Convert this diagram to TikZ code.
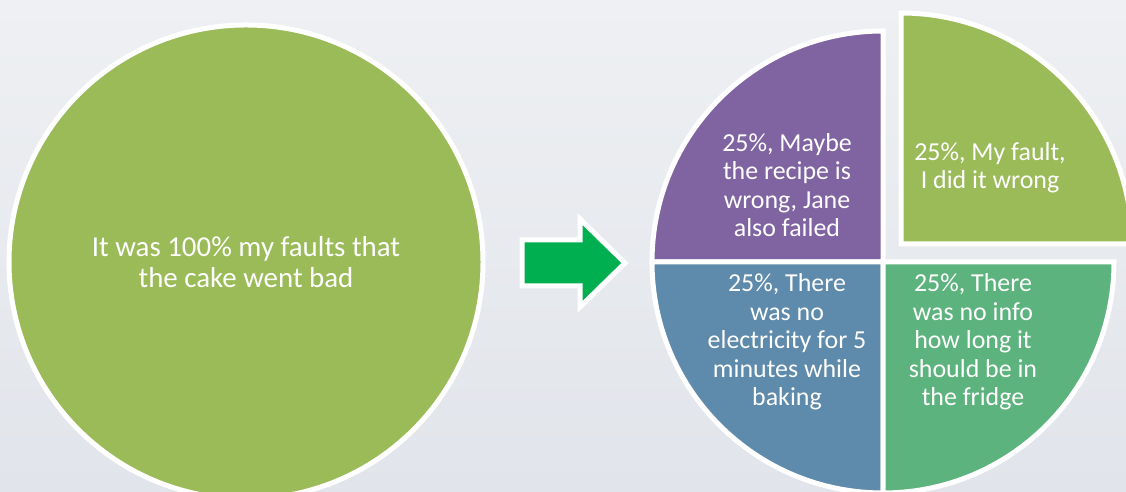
\documentclass[tikz,border=0pt]{standalone}
\usepackage{fontspec}
\setmainfont{Carlito}
\definecolor{bgtop}{HTML}{EEF0F3}
\definecolor{bgbot}{HTML}{E1E4EA}
\definecolor{leaf}{HTML}{9BBB59}
\definecolor{plum}{HTML}{8064A2}
\definecolor{steel}{HTML}{5E8AAB}
\definecolor{mint}{HTML}{5DB37E}
\definecolor{go}{HTML}{00B050}

\begin{document}
\begin{tikzpicture}
   [x=1bp,y=1bp,
    wedge/.style={draw=white, line width=5bp, line join=miter},
    txt/.style={text=white, align=center, inner sep=0pt, font=\fontsize{26}{28.5}\selectfont}]

  \useasboundingbox (0,0) rectangle (1126,492);
  \clip (0,0) rectangle (1126,492);
  \shade[top color=bgtop, bottom color=bgbot] (0,0) rectangle (1126,492);

  \coordinate (c)  at (883,230);
  \coordinate (cx) at (901,248);

  % the whole cake
  \node[circle, fill=leaf, draw=white, line width=5bp, minimum size=474bp, inner sep=0pt,
        text=white, align=center, font=\fontsize{29}{31.5}\selectfont] (whole) at (246,230)
        {It was 100\% my faults that\\the cake went bad};

  % arrow
  \filldraw[fill=go, draw=white, line width=5bp, line join=miter]
    (522,252) -- (580,252) -- (580,273) -- (625,229) -- (580,185) -- (580,206) -- (522,206) -- cycle;

  % pie
  \foreach \col/\a in {plum/90,steel/180,mint/270}
    \filldraw[wedge, fill=\col] (c) -- ++(\a:231bp) arc[start angle=\a, end angle=\a+90, radius=231bp] -- cycle;
  \filldraw[wedge, fill=leaf] (cx) -- ++(0:231bp) arc[start angle=0, end angle=90, radius=231bp] -- cycle;

  \node[txt] (maybe)  at (787,307) {25\%, Maybe\\the recipe is\\wrong, Jane\\also failed};
  \node[txt] (mine)   at (990,324) {25\%, My fault,\\I did it wrong};
  \node[txt] (power)  at (787,150) {25\%, There\\was no\\electricity for 5\\minutes while\\baking};
  \node[txt] (fridge) at (973,150) {25\%, There\\was no info\\how long it\\should be in\\the fridge};

\end{tikzpicture}
\end{document}
